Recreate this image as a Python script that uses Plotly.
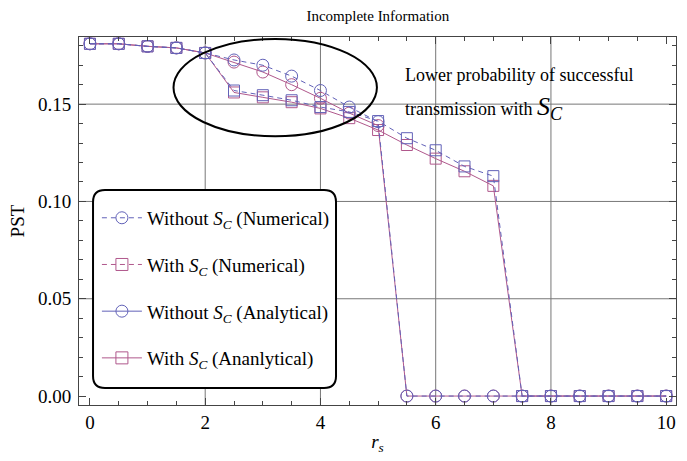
import plotly.graph_objects as go

# ---------------- data ----------------
rs = [0, 0.5, 1, 1.5, 2, 2.5, 3, 3.5, 4, 4.5, 5, 5.5, 6, 6.5, 7, 7.5, 8, 8.5, 9, 9.5, 10]

without_num = [0.181, 0.181, 0.1797, 0.1789, 0.1763, 0.1727, 0.170, 0.1644, 0.157, 0.1485, 0.141,
               0, 0, 0, 0, 0, 0, 0, 0, 0, 0]
without_ana = [0.181, 0.181, 0.1797, 0.1789, 0.1763, 0.1716, 0.1665, 0.160, 0.153, 0.1454, 0.139,
               0, 0, 0, 0, 0, 0, 0, 0, 0, 0]
with_num = [0.181, 0.181, 0.1797, 0.1789, 0.1763, 0.157, 0.1546, 0.152, 0.1485, 0.146, 0.1413,
            0.1325, 0.1263, 0.118, 0.113, 0, 0, 0, 0, 0, 0]
with_ana = [0.181, 0.181, 0.1797, 0.1789, 0.1763, 0.156, 0.1535, 0.151, 0.1478, 0.1428, 0.1367,
            0.129, 0.122, 0.1155, 0.108, 0, 0, 0, 0, 0, 0]

legend_names = [
    "Without <i>S</i><sub><i>C</i></sub> (Numerical)",
    "With <i>S</i><sub><i>C</i></sub> (Numerical)",
    "Without <i>S</i><sub><i>C</i></sub> (Analytical)",
    "With <i>S</i><sub><i>C</i></sub> (Ananlytical)",
]
x_ticks = [0, 2, 4, 6, 8, 10]
y_ticks = [0.00, 0.05, 0.10, 0.15]
grid_x = [2, 4, 6, 8]
grid_y = [0.05, 0.10, 0.15]

BLUE = "#6262b8"
PINK = "#b0588c"
FONT = "Liberation Serif"
DASH = "5px,4px"

fig = go.Figure()

# data traces (drawn; legend handled separately)
fig.add_trace(go.Scatter(x=rs, y=without_ana, mode="lines+markers", showlegend=False,
                         line=dict(color=PINK, width=1),
                         marker=dict(symbol="circle-open", size=12, color=PINK, line=dict(width=1))))
fig.add_trace(go.Scatter(x=rs, y=with_ana, mode="lines+markers", showlegend=False,
                         line=dict(color=PINK, width=1),
                         marker=dict(symbol="square-open", size=11, color=PINK, line=dict(width=1))))
fig.add_trace(go.Scatter(x=rs, y=without_num, mode="lines+markers", showlegend=False,
                         line=dict(color=BLUE, width=1, dash=DASH),
                         marker=dict(symbol="circle-open", size=12, color=BLUE, line=dict(width=1))))
fig.add_trace(go.Scatter(x=rs, y=with_num, mode="lines+markers", showlegend=False,
                         line=dict(color=BLUE, width=1, dash=DASH),
                         marker=dict(symbol="square-open", size=11, color=BLUE, line=dict(width=1))))

# legend entries (styles as in the original legend)
leg_styles = [
    (BLUE, DASH, "circle-open"),
    (PINK, DASH, "square-open"),
    (BLUE, "solid", "circle-open"),
    (PINK, "solid", "square-open"),
]
for i, (name, (c, d, s)) in enumerate(zip(legend_names, leg_styles)):
    fig.add_trace(go.Scatter(x=[None], y=[None], mode="lines+markers", name=name,
                             legendgroup=f"g{i}",
                             line=dict(color=c, width=1, dash=d),
                             marker=dict(symbol=s, size=12, color=c, line=dict(width=1))))

shapes = []
for gx in grid_x:
    shapes.append(dict(type="line", xref="x", yref="paper", x0=gx, x1=gx, y0=0, y1=1,
                       line=dict(color="#777777", width=1), layer="below"))
for gy in grid_y:
    shapes.append(dict(type="line", xref="paper", yref="y", x0=0, x1=1, y0=gy, y1=gy,
                       line=dict(color="#777777", width=1), layer="below"))

# ellipse highlighting region
shapes.append(dict(type="circle", xref="x", yref="y", x0=1.45, x1=4.98, y0=0.1335, y1=0.1835,
                   line=dict(color="black", width=2), layer="above"))

# rounded legend box
bx0, bx1, by0, by1 = 0.0235, 0.4305, 0.046, 0.584
rx, ry = 0.02, 0.0326
path = (f"M {bx0+rx},{by0} L {bx1-rx},{by0} Q {bx1},{by0} {bx1},{by0+ry} "
        f"L {bx1},{by1-ry} Q {bx1},{by1} {bx1-rx},{by1} "
        f"L {bx0+rx},{by1} Q {bx0},{by1} {bx0},{by1-ry} "
        f"L {bx0},{by0+ry} Q {bx0},{by0} {bx0+rx},{by0} Z")
shapes.append(dict(type="path", xref="paper", yref="paper", path=path,
                   fillcolor="white", line=dict(color="black", width=2), layer="above"))

fig.update_layout(
    width=687, height=461,
    margin=dict(l=79, r=11, t=37, b=56),
    paper_bgcolor="white", plot_bgcolor="white",
    font=dict(family=FONT, size=18, color="black"),
    title=dict(text="Incomplete Information", x=0.55, xanchor="center", y=0.965, yanchor="middle",
               font=dict(family=FONT, size=15, color="black")),
    shapes=shapes,
    showlegend=True,
    legend=dict(x=0.03, y=0.56, xanchor="left", yanchor="top", bgcolor="rgba(0,0,0,0)",
                borderwidth=0, font=dict(family=FONT, size=19, color="black"),
                tracegroupgap=19, itemwidth=40),
    annotations=[
        dict(text="Lower probability of successful", xref="paper", yref="paper",
             x=0.543, y=0.897, xanchor="left", yanchor="middle", showarrow=False,
             font=dict(family=FONT, size=18, color="black")),
        dict(text="transmission with <span style='font-size:26px'><i>S</i><sub><i>C</i></sub></span>",
             xref="paper", yref="paper", x=0.543, y=0.808, xanchor="left", yanchor="middle",
             showarrow=False, font=dict(family=FONT, size=18, color="black")),
    ],
)

fig.update_xaxes(
    range=[-0.19, 10.17], tickvals=x_ticks, ticktext=[str(v) for v in x_ticks],
    showgrid=False, zeroline=False, showline=True, linecolor="#444444", linewidth=1,
    mirror="allticks", ticks="inside", ticklen=7, tickcolor="#444444",
    minor=dict(dtick=0.5, ticks="inside", ticklen=4, tickcolor="#444444", showgrid=False),
    tickfont=dict(family=FONT, size=19), ticklabelstandoff=0,
    title=dict(text="<i>r</i><sub><i>s</i></sub>", font=dict(family=FONT, size=19), standoff=2),
)
fig.update_yaxes(
    range=[-0.0046, 0.1845], tickvals=y_ticks, ticktext=[f"{v:.2f}" for v in y_ticks],
    showgrid=False, zeroline=False, showline=True, linecolor="#444444", linewidth=1,
    mirror="allticks", ticks="inside", ticklen=7, tickcolor="#444444",
    minor=dict(dtick=0.01, ticks="inside", ticklen=4, tickcolor="#444444", showgrid=False),
    tickfont=dict(family=FONT, size=19), ticklabelstandoff=3,
    title=dict(text="PST", font=dict(family=FONT, size=19), standoff=8),
)

fig.write_html("out.html")
